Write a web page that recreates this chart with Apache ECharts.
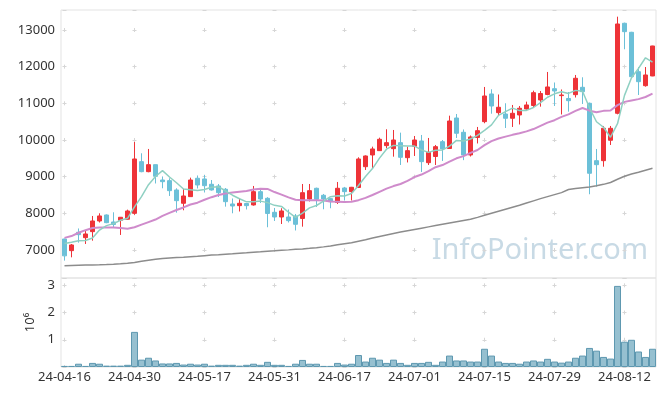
<!DOCTYPE html>
<html><head><meta charset="utf-8">
<script src="https://cdn.jsdelivr.net/npm/echarts@6/dist/echarts.min.js"></script>
<style>html,body{margin:0;padding:0;background:#fff}#c{width:665px;height:396px}</style>
</head><body><div id="c"></div>
<script>
const dates = ['24-04-16','24-04-17','24-04-18','24-04-19','24-04-22','24-04-23','24-04-24','24-04-25','24-04-26','24-04-29','24-04-30',
'24-05-02','24-05-03','24-05-07','24-05-08','24-05-09','24-05-10','24-05-13','24-05-14','24-05-16','24-05-17','24-05-20','24-05-21','24-05-22','24-05-23','24-05-24','24-05-27','24-05-28','24-05-29','24-05-30','24-05-31',
'24-06-03','24-06-04','24-06-05','24-06-07','24-06-10','24-06-11','24-06-12','24-06-13','24-06-14','24-06-17','24-06-18','24-06-19','24-06-20','24-06-21','24-06-24','24-06-25','24-06-26','24-06-27','24-06-28',
'24-07-01','24-07-02','24-07-03','24-07-04','24-07-05','24-07-08','24-07-09','24-07-10','24-07-11','24-07-12','24-07-15','24-07-16','24-07-17','24-07-18','24-07-19','24-07-22','24-07-23','24-07-24','24-07-25','24-07-26','24-07-29','24-07-30','24-07-31',
'24-08-01','24-08-02','24-08-05','24-08-06','24-08-07','24-08-08','24-08-09','24-08-12','24-08-13','24-08-14','24-08-16','24-08-19'];

const opens = [7300,6982,7483,7336,7500,7791,7955,7764,7810,7838,8001,9409,9136,9327,8909,8891,8637,8274,8455,8956,8937,8792,8746,8656,8255,8209,8268,8228,8591,8410,8028,7900,7900,7928,7860,8391,8683,8492,8400,8296,8691,8591,8705,9272,9591,9709,9846,9763,9927,9518,9828,9973,9381,9550,9954,9768,10600,10210,9591,10068,10500,11255,10745,10709,10592,10682,10846,10941,11091,11241,11399,11210,11132,11236,11437,11001,9436,9436,9992,10728,13183,12937,11863,11481,11746];
const closes = [6840,7137,7418,7437,7791,7928,7745,7696,7892,8064,9482,9136,9327,9010,8863,8618,8345,8473,8909,8773,8754,8637,8563,8318,8200,8274,8209,8591,8391,7996,7900,8064,7800,7701,8563,8618,8383,8391,8318,8683,8591,8710,9482,9564,9755,10019,9927,10000,9528,9709,10000,9409,9665,9818,9755,10518,10183,9591,10082,10254,11200,10927,10892,10592,10728,10865,10955,11290,11268,11446,11336,11227,11072,11683,11317,9092,9327,10319,10319,13164,12954,11727,11590,11773,12564];
const lows = [6710,6800,7200,7164,7254,7750,7730,7627,7410,7830,7960,9120,9120,8814,8683,8473,8018,8083,8450,8678,8568,8620,8446,8182,8001,8050,8105,8210,8282,7620,7791,7709,7750,7532,7636,8323,8173,8110,8138,8255,8350,8350,8690,9182,9223,9700,9774,9545,9318,9387,9564,9128,9318,9318,9428,9760,10055,9450,9550,9905,10456,10717,10655,10327,10355,10423,10830,10900,10909,11220,10927,10696,10772,11159,10982,8520,8727,9272,9864,10700,12474,11700,11227,11454,11740];
const highs = [7310,7164,7587,7537,7928,8001,7970,8028,7900,8100,9946,9637,9755,9330,9005,8956,8683,8664,8973,9032,9046,8909,8800,8690,8405,8405,8280,8746,8678,8440,8146,8138,8105,7982,8800,8800,8700,8528,8420,8855,8720,8720,9528,9580,9818,10063,10292,10273,10200,9818,10109,10137,10055,9864,10000,10663,10709,10287,10123,10355,11446,11383,11241,11001,10955,10927,11045,11345,11336,11855,11568,11377,11309,11773,11710,11020,9755,10382,10382,13363,13200,12950,11990,11990,12570];

const ma5 = [7180,7210,7250,7260,7325,7542,7664,7719,7810,7865,8176,8454,8780,9004,9164,8991,8833,8662,8642,8624,8651,8709,8727,8609,8494,8398,8313,8318,8333,8292,8217,8188,8030,7892,8006,8149,8213,8331,8455,8479,8473,8539,8757,9006,9220,9506,9749,9853,9846,9837,9833,9729,9662,9720,9729,9833,9988,9973,10026,10126,10262,10411,10671,10773,10868,10801,10806,10886,11021,11165,11259,11313,11270,11353,11327,10878,10498,10348,10075,10444,11217,11697,11951,12242,12122];
const ma20 = [7330,7380,7470,7540,7600,7610,7610,7610,7600,7580,7620,7690,7760,7830,7930,8010,8090,8160,8240,8290,8370,8440,8500,8540,8565,8590,8610,8650,8670,8665,8580,8511,8434,8369,8354,8354,8356,8352,8322,8318,8310,8313,8359,8421,8499,8586,8672,8743,8800,8885,8990,9058,9151,9257,9316,9411,9501,9561,9649,9728,9858,9969,10040,10091,10140,10182,10234,10298,10385,10472,10539,10630,10700,10793,10871,10800,10757,10794,10805,10951,11039,11079,11114,11173,11264];
const maLong = [6573,6578,6583,6588,6593,6598,6605,6614,6625,6637,6660,6690,6720,6750,6770,6782,6794,6805,6818,6830,6845,6860,6872,6885,6898,6912,6925,6940,6952,6965,6977,6990,7003,7017,7030,7045,7062,7085,7110,7140,7170,7200,7240,7280,7325,7370,7410,7450,7488,7525,7560,7595,7630,7665,7700,7735,7770,7805,7840,7890,7945,8000,8055,8110,8165,8220,8280,8340,8400,8455,8510,8565,8650,8675,8700,8720,8750,8790,8840,8930,9010,9070,9120,9175,9228];
const volumes = [40000,40000,120000,40000,150000,120000,50000,50000,50000,80000,1290000,270000,340000,240000,130000,130000,150000,90000,120000,90000,120000,50000,80000,80000,80000,50000,80000,120000,80000,190000,80000,80000,40000,120000,260000,120000,120000,40000,40000,150000,90000,120000,440000,200000,340000,270000,150000,270000,150000,80000,150000,150000,190000,80000,200000,420000,240000,240000,200000,200000,670000,420000,200000,150000,150000,120000,200000,240000,200000,300000,200000,160000,200000,340000,420000,700000,600000,370000,310000,2980000,930000,1000000,570000,370000,670000];

const candleData = dates.map((d, i) => [opens[i], closes[i], lows[i], highs[i]]);

const FONT = 'Noto Sans';
const UP = '#ee3338', DOWN = '#6cc0d8';
const chart = echarts.init(document.getElementById('c'), null, {renderer: 'canvas'});
chart.setOption({
  animation: false,
  grid: [
    {left: 61, right: 9, top: 10, height: 268, show: true, borderColor: '#e3e3e3', borderWidth: 1},
    {left: 61, right: 9, top: 278, height: 89, show: true, borderColor: '#e3e3e3', borderWidth: 1}
  ],
  graphic: [{
    type: 'text', right: 17, top: 236, z: 0, silent: true,
    style: {text: 'InfoPointer.com', fill: '#c8dae5', font: '29px "Noto Sans"'}
  }],
  xAxis: [
    {type: 'category', data: dates, gridIndex: 0, boundaryGap: true,
     axisLine: {show: false}, axisTick: {show: false}, axisLabel: {show: false},
     splitLine: {show: true, interval: 9, alignWithLabel: true,
       lineStyle: {color: '#d6d6d6', width: 1, type: [4, 32.667], dashOffset: 18.667}}},
    {type: 'category', data: dates, gridIndex: 1, boundaryGap: true,
     axisLine: {show: false}, axisTick: {show: false},
     axisLabel: {interval: 9, color: '#333', fontSize: 13, fontFamily: FONT, margin: 4},
     splitLine: {show: true, interval: 9, alignWithLabel: true,
       lineStyle: {color: '#d6d6d6', width: 1, type: [4, 23.22], dashOffset: 21.9}}}
  ],
  yAxis: [
    {type: 'value', gridIndex: 0, min: 6236, max: 13545, splitNumber: 7,
     axisLine: {show: false}, axisTick: {show: false},
     axisLabel: {color: '#333', fontSize: 13, fontFamily: FONT, margin: 6,
       formatter: v => (v % 1000 === 0 ? String(v) : '')},
     splitLine: {show: true, lineStyle: {color: '#d6d6d6', width: 1, type: [4, 66], dashOffset: 68.5}}},
    {type: 'value', gridIndex: 1, min: 0, max: 3270000, splitNumber: 3,
     name: '10\u2076', nameLocation: 'middle', nameRotate: 90, nameGap: 24,
     nameTextStyle: {color: '#333', fontSize: 13, fontFamily: FONT},
     axisLine: {show: false}, axisTick: {show: false},
     axisLabel: {color: '#333', fontSize: 13, fontFamily: FONT, margin: 6,
       formatter: v => (v > 0 && v % 1000000 === 0 ? String(v / 1000000) : '')},
     splitLine: {show: true, lineStyle: {color: '#d6d6d6', width: 1, type: [4, 66], dashOffset: 68.5}}}
  ],
  series: [
    {type: 'candlestick', xAxisIndex: 0, yAxisIndex: 0, data: candleData, barWidth: 4,
     itemStyle: {color: UP, color0: DOWN, borderColor: UP, borderColor0: DOWN, borderWidth: 1}},
    {type: 'line', xAxisIndex: 0, yAxisIndex: 0, data: maLong, symbol: 'none',
     lineStyle: {color: '#8c8c8c', width: 1.5}},
    {type: 'line', xAxisIndex: 0, yAxisIndex: 0, data: ma20, symbol: 'none',
     lineStyle: {color: '#cf8bcb', width: 2}},
    {type: 'line', xAxisIndex: 0, yAxisIndex: 0, data: ma5, symbol: 'none',
     lineStyle: {color: '#8fd0c2', width: 1.5}},
    {type: 'bar', xAxisIndex: 1, yAxisIndex: 1, data: volumes, barCategoryGap: '0%',
     itemStyle: {color: '#96c0d0', borderColor: '#5e98b0', borderWidth: 1}}
  ]
});
</script></body></html>
